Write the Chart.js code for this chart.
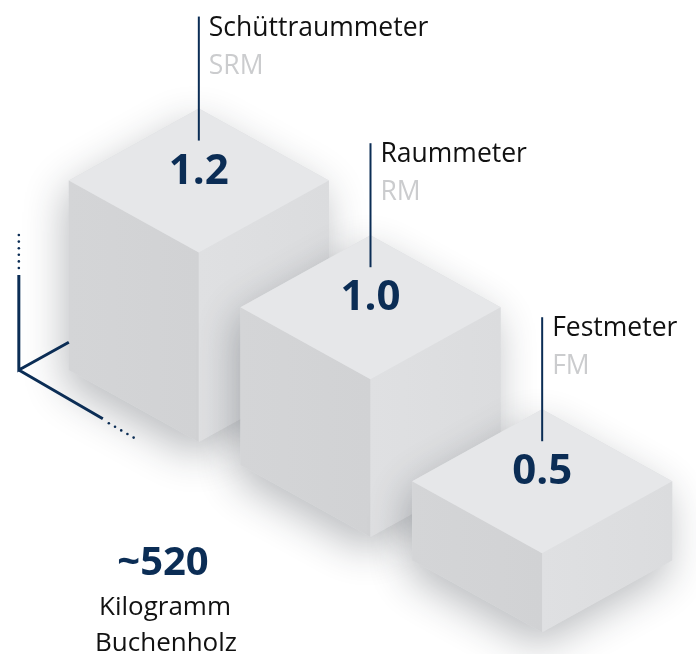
<!DOCTYPE html>
<html>
<head>
<meta charset="utf-8">
<script src="https://cdn.jsdelivr.net/npm/chart.js@4/dist/chart.umd.min.js"></script>
<style>
  html, body { margin: 0; padding: 0; background: #fff; }
  #wrap { width: 696px; height: 654px; position: relative; }
</style>
</head>
<body>
<div id="wrap"><canvas id="myChart"></canvas></div>
<script>
const categories = ['Schüttraummeter', 'Raummeter', 'Festmeter'];
const abbreviations = ['SRM', 'RM', 'FM'];
const volumes = [1.2, 1.0, 0.5];
const valueLabels = ['1.2', '1.0', '0.5'];
const weightValue = '~520';
const weightLines = ['Kilogramm', 'Buchenholz'];

const NAVY = '#0b2d55';
const HW = 130;   // half width of a cube footprint
const HH = 72;    // half height of the top diamond
const SLOPE = HH / HW;

function poly(ctx, pts) {
  ctx.beginPath();
  ctx.moveTo(pts[0][0], pts[0][1]);
  for (let i = 1; i < pts.length; i++) ctx.lineTo(pts[i][0], pts[i][1]);
  ctx.closePath();
}

function drawCube(ctx, cx, ground, h) {
  const ft = ground - h;
  // soft shadow from the silhouette
  ctx.save();
  ctx.shadowColor = 'rgba(30,35,45,0.30)';
  ctx.shadowBlur = 40;
  ctx.shadowOffsetX = -4;
  ctx.shadowOffsetY = 14;
  poly(ctx, [[cx, ft - 2 * HH], [cx + HW, ft - HH], [cx + HW, ground - HH], [cx, ground], [cx - HW, ground - HH], [cx - HW, ft - HH]]);
  ctx.fillStyle = '#dcdddf';
  ctx.fill();
  ctx.restore();

  // left face
  let g = ctx.createLinearGradient(cx - HW, 0, cx, 0);
  g.addColorStop(0, '#d4d5d7');
  g.addColorStop(1, '#d1d2d4');
  poly(ctx, [[cx - HW, ft - HH], [cx, ft], [cx, ground], [cx - HW, ground - HH]]);
  ctx.fillStyle = g;
  ctx.fill();
  // right face
  g = ctx.createLinearGradient(cx, 0, cx + HW, 0);
  g.addColorStop(0, '#dfe0e2');
  g.addColorStop(1, '#dbdcde');
  poly(ctx, [[cx, ft], [cx + HW, ft - HH], [cx + HW, ground - HH], [cx, ground]]);
  ctx.fillStyle = g;
  ctx.fill();
  // top face
  poly(ctx, [[cx, ft], [cx - HW, ft - HH], [cx, ft - 2 * HH], [cx + HW, ft - HH]]);
  ctx.fillStyle = '#e6e7e9';
  ctx.fill();
  return ft - 2 * HH;
}

const cubePlugin = {
  id: 'cubes',
  afterDatasetsDraw(chart) {
    const ctx = chart.ctx;
    const bars = chart.getDatasetMeta(0).data;
    const x0 = bars[0].x;
    ctx.save();
    const backs = [];
    bars.forEach((bar, i) => {
      const ground = bar.base + (bar.x - x0) * SLOPE;
      const h = bar.base - bar.y;
      backs.push(drawCube(ctx, bar.x, ground, h));
    });

    // axis ornament next to the first cube
    const ox = bars[0].x - HW - 50;
    const oy = bars[0].base - HH;
    ctx.strokeStyle = NAVY;
    ctx.fillStyle = NAVY;
    ctx.lineWidth = 3;
    ctx.lineCap = 'butt';
    ctx.beginPath();
    ctx.moveTo(ox, oy - 95);
    ctx.lineTo(ox, oy);
    ctx.lineTo(ox + 50, oy - 50 * SLOPE);
    ctx.moveTo(ox, oy);
    ctx.lineTo(ox + 84, oy + 84 * 0.58);
    ctx.stroke();
    for (let k = 0; k < 6; k++) {
      ctx.beginPath();
      ctx.arc(ox, oy - 102 - k * 6.6, 1.3, 0, Math.PI * 2);
      ctx.fill();
    }
    for (let k = 0; k < 5; k++) {
      const d = 90 + k * 6.2;
      ctx.beginPath();
      ctx.arc(ox + d, oy + d * 0.58 + 1, 1.3, 0, Math.PI * 2);
      ctx.fill();
    }

    // labels and values
    bars.forEach((bar, i) => {
      const back = backs[i];
      ctx.strokeStyle = NAVY;
      ctx.lineWidth = 2;
      ctx.beginPath();
      ctx.moveTo(bar.x, back - 92);
      ctx.lineTo(bar.x, back + 32);
      ctx.stroke();

      ctx.textAlign = 'left';
      ctx.textBaseline = 'alphabetic';
      ctx.font = '26.5px "Open Sans"';
      ctx.fillStyle = '#111111';
      ctx.fillText(categories[i], bar.x + 10, back - 73);
      ctx.fillStyle = '#cbccce';
      ctx.fillText(abbreviations[i], bar.x + 10, back - 35);

      ctx.textAlign = 'center';
      ctx.font = 'bold 42px "Open Sans"';
      ctx.fillStyle = NAVY;
      ctx.fillText(valueLabels[i], bar.x, back + 75);
    });

    // weight note
    ctx.textAlign = 'center';
    ctx.font = 'bold 40px "Open Sans"';
    ctx.fillStyle = NAVY;
    ctx.fillText(weightValue, 163, 575);
    ctx.font = '26px "Open Sans"';
    ctx.fillStyle = '#111111';
    ctx.fillText(weightLines[0], 165, 615);
    ctx.fillText(weightLines[1], 166, 651);
    ctx.restore();
  }
};

var ctx = document.getElementById('myChart').getContext('2d');
var chart = new Chart(ctx, {
  type: 'bar',
  data: {
    labels: categories,
    datasets: [
      {
        label: 'Volumen',
        data: volumes,
        backgroundColor: 'rgba(0,0,0,0)',
        borderWidth: 0,
      },
    ],
  },
  options: {
    responsive: true,
    maintainAspectRatio: false,
    animation: false,
    layout: { padding: { left: 113, right: 68, top: 0, bottom: 212 } },
    plugins: { legend: { display: false }, tooltip: { enabled: false } },
    scales: {
      x: { display: false },
      y: { display: false, min: 0, max: 2.8 },
    },
  },
  plugins: [cubePlugin],
});
</script>
</body>
</html>
